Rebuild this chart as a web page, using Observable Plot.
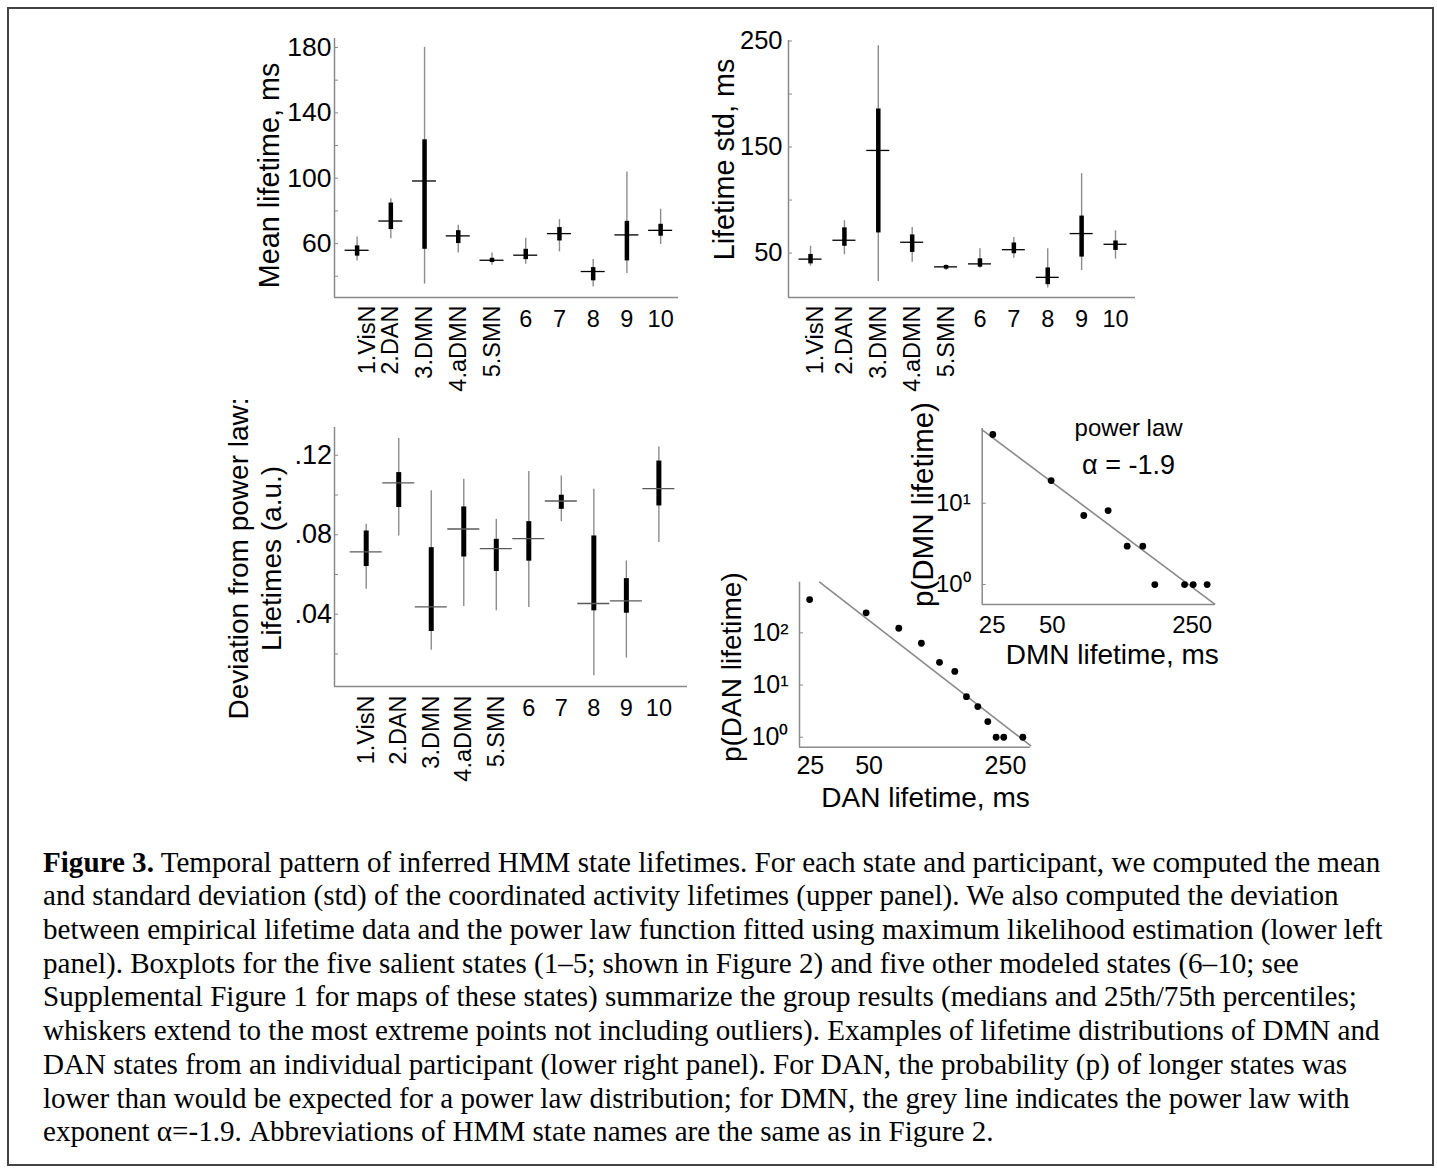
<!DOCTYPE html>
<html><head><meta charset="utf-8">
<script src="https://cdn.jsdelivr.net/npm/d3@7"></script>
<script src="https://cdn.jsdelivr.net/npm/@observablehq/plot@0.6"></script>
<style>
html,body{margin:0;padding:0;background:#fff;}
#page{position:relative;width:1437px;height:1171px;overflow:hidden;background:#fff;}
#border{position:absolute;left:7px;top:7px;width:1427px;height:1159px;border:2px solid #444;box-sizing:border-box;}
.panel{position:absolute;}
.panel svg{overflow:visible;}
#caption{position:absolute;left:0;top:0;}
</style></head><body>
<div id="page">
<div id="border"></div>
<div class="panel" id="pA"></div>
<div class="panel" id="pB"></div>
<div class="panel" id="pC"></div>
<div class="panel" id="pE"></div>
<div class="panel" id="pD"></div>
<svg id="caption" width="1437" height="1171"></svg>
</div>
<script>
// ---------------- data ----------------
const states = ["1.VisN","2.DAN","3.DMN","4.aDMN","5.SMN","6","7","8","9","10"];

// Mean lifetime, ms
const meanMed = [55.9, 73.8, 98.3, 64.7, 49.8, 52.9, 66.1, 42.9, 65.3, 68.1];
const meanQ1  = [52.3, 68.6, 56.5, 60.0, 48.4, 50.2, 61.6, 37.2, 49.4, 64.5];
const meanQ3  = [58.6, 84.8, 123.5, 67.9, 51.0, 56.5, 69.8, 45.3, 73.6, 71.8];
const meanLo  = [49.4, 62.9, 35.2, 54.3, 46.8, 47.4, 54.9, 33.5, 41.7, 59.4];
const meanHi  = [64.0, 87.5, 180.1, 71.2, 54.3, 63.3, 74.7, 50.2, 103.8, 81.0];
const meanTicks = [60, 100, 140, 180];
const meanMinor = [40, 60, 80, 100, 120, 140, 160, 180];

// Lifetime std, ms
const stdMed = [44.3, 62.1, 146.8, 60.2, 37.0, 39.8, 53.2, 27.1, 68.4, 58.3];
const stdQ1  = [39.8, 56.4, 69.0, 50.6, 34.8, 36.7, 49.4, 20.2, 46.2, 52.5];
const stdQ3  = [48.7, 73.8, 185.9, 67.1, 38.3, 44.6, 59.5, 36.0, 84.9, 61.4];
const stdLo  = [37.6, 48.4, 23.3, 41.4, 33.5, 35.7, 45.2, 17.0, 33.5, 44.3];
const stdHi  = [56.4, 80.5, 245.6, 74.1, 38.9, 54.1, 64.6, 54.1, 124.9, 71.0];
const stdTicks = [50, 150, 250];
const stdMinor = [50, 100, 150, 200, 250];

// Deviation from power law (a.u.)
const devMed = [0.0714, 0.1061, 0.0437, 0.0829, 0.0730, 0.0781, 0.0970, 0.0454, 0.0467, 0.1032];
const devQ1  = [0.0640, 0.0937, 0.0313, 0.0688, 0.0615, 0.0667, 0.0928, 0.0417, 0.0405, 0.0945];
const devQ3  = [0.0819, 0.1113, 0.0735, 0.0940, 0.0777, 0.0866, 0.0999, 0.0794, 0.0579, 0.1171];
const devLo  = [0.0526, 0.0794, 0.0219, 0.0439, 0.0417, 0.0434, 0.0866, 0.0090, 0.0179, 0.0761];
const devHi  = [0.0853, 0.1285, 0.1021, 0.1079, 0.0878, 0.1118, 0.1096, 0.1029, 0.0668, 0.1242];
const devTicks = [0.04, 0.08, 0.12];
const devMinor = [0.02, 0.04, 0.06, 0.08, 0.10, 0.12];

// DMN lifetime distribution (one participant)
const dmnLife = [25.2, 49.3, 71.8, 95, 118.3, 141.6, 162.6, 229, 253, 297];
const dmnP    = [70, 19.0, 7.06, 8.13, 2.96, 2.96, 1, 1, 1, 1];
const dmnFitLife = [22.3, 324];
const dmnFitP    = [80, 0.575];
const dmnPTicks = [1, 10];

// DAN lifetime distribution (one participant)
const danLife = [24.8, 48.3, 71.0, 92.7, 114.8, 137.5, 157.8, 180.4, 203, 224, 245, 307];
const danP    = [434, 241.7, 122.5, 63.2, 27.3, 18.2, 6.0, 3.87, 2.0, 1, 1, 1];
const danFitLife = [27.9, 336];
const danFitP    = [933, 0.693];
const danPTicks = [1, 10, 100];

const lifeTicks = [25, 50, 250];

// ---------------- helpers ----------------
const FONT = "'Liberation Sans', Arial, Helvetica, sans-serif";
const AXIS = "#8a8a8a";
const sup = d => "10" + "⁰¹²³"[Math.round(Math.log10(d))];

function place(id, left, top, node) {
  const el = document.getElementById(id);
  el.style.left = left + "px";
  el.style.top = top + "px";
  el.appendChild(node);
}

function boxPanel(c) {
  const rows = states.map((label, i) => ({
    pos: i + 1, label, med: c.med[i], q1: c.q1[i], q3: c.q3[i], lo: c.lo[i], hi: c.hi[i]
  }));
  const x0 = c.xDomain[0], y0 = c.yDomain[0];
  const rot = rows.filter(d => d.label.includes("."));
  return Plot.plot({
    width: c.w, height: c.h,
    marginLeft: c.ml, marginRight: c.mr, marginTop: c.mt, marginBottom: c.mb,
    style: {fontFamily: FONT, fontSize: c.tickFont + "px", background: "transparent", overflow: "visible", color: "#000"},
    x: {domain: c.xDomain, axis: null},
    y: {domain: c.yDomain, ticks: c.yTicks, tickFormat: c.yFormat, tickSize: 0, tickPadding: c.tickPad, label: null},
    marks: [
      Plot.ruleX([x0], {stroke: AXIS, strokeWidth: 1.5}),
      Plot.ruleY([y0], {stroke: AXIS, strokeWidth: 1.5}),
      Plot.ruleY(c.yMinor, {y: d => d, x1: x0, x2: x0, insetRight: -4, stroke: AXIS, strokeWidth: 1}),
      Plot.ruleX(rows, {x: "pos", y1: "lo", y2: "hi", stroke: "#8c8c8c", strokeWidth: 1.4}),
      Plot.ruleX(rows, {x: "pos", y1: "q1", y2: "q3", stroke: "#000", strokeWidth: c.boxW}),
      Plot.ruleY(rows, {y: "med", x1: "pos", x2: "pos", insetLeft: -c.medHalf, insetRight: -c.medHalf,
        stroke: c.medColor, strokeWidth: 1.3}),
      Plot.text(rot.slice(0, 1), {x: "pos", text: "label", frameAnchor: "bottom",
        rotate: -90, textAnchor: "end", lineAnchor: "middle", dx: c.firstDx, dy: c.rotDy, fontSize: 23.5, fill: "#000"}),
      Plot.text(rot.slice(1), {x: "pos", text: "label", frameAnchor: "bottom",
        rotate: -90, textAnchor: "end", lineAnchor: "middle", dy: c.rotDy, fontSize: 23.5, fill: "#000"}),
      Plot.text(rows.filter(d => !d.label.includes(".")), {x: "pos", text: "label", frameAnchor: "bottom",
        lineAnchor: "top", dy: c.numDy, fontSize: 23.5, fill: "#000"}),
      Plot.text([c.ylabel], {frameAnchor: "left", rotate: -90, textAnchor: "middle", lineAnchor: "middle",
        dx: c.ylDx, dy: c.ylDy, fontSize: c.ylSize, lineHeight: 1.18, fill: "#000"})
    ]
  });
}

function scatterPanel(c) {
  const pts = c.life.map((v, i) => ({life: v, p: c.p[i]}));
  const fit = c.fitLife.map((v, i) => ({life: v, p: c.fitP[i]}));
  const x0 = c.xDomain[0], y0 = c.yDomain[0];
  return Plot.plot({
    width: c.w, height: c.h,
    marginLeft: c.ml, marginRight: c.mr, marginTop: c.mt, marginBottom: c.mb,
    style: {fontFamily: FONT, fontSize: c.tickFont + "px", background: "transparent", overflow: "visible", color: "#000"},
    x: {type: "log", domain: c.xDomain, ticks: lifeTicks, tickFormat: d => String(d), tickSize: 0, tickPadding: c.xPad, label: null},
    y: {type: "log", domain: c.yDomain, ticks: c.yTicks, tickFormat: sup, tickSize: 0, tickPadding: c.yPad, label: null},
    marks: [
      Plot.ruleX([x0], {stroke: AXIS, strokeWidth: 1.5}),
      Plot.ruleY([y0], {stroke: AXIS, strokeWidth: 1.5}),
      Plot.ruleY(c.yTicks, {y: d => d, x1: x0, x2: x0, insetRight: -4, stroke: AXIS, strokeWidth: 1}),
      Plot.line(fit, {x: "life", y: "p", stroke: "#8a8a8a", strokeWidth: 1.6}),
      Plot.dot(pts, {x: "life", y: "p", r: 3.4, fill: "#000", stroke: "none"}),
      Plot.text([c.ylabel], {frameAnchor: "left", rotate: -90, textAnchor: "middle", lineAnchor: "middle",
        dx: c.ylDx, dy: c.ylDy, fontSize: c.ylSize, fill: "#000"}),
      Plot.text([c.xlabel], {frameAnchor: "bottom", textAnchor: "middle", lineAnchor: "middle",
        dx: c.xlDx, dy: c.xlDy, fontSize: 28, fill: "#000"}),
      ...(c.notes || []).map(n => Plot.text([n.text], {frameAnchor: "top", lineAnchor: "middle",
        dx: n.dx, dy: n.dy, fontSize: n.size, fill: "#000"}))
    ]
  });
}

// ---------------- panels ----------------
place("pA", 180, 20, boxPanel({
  w: 520, h: 400, ml: 154, mr: 22, mt: 18, mb: 123,
  xDomain: [0.33, 10.53], yDomain: [27, 185.5],
  yTicks: meanTicks, yMinor: meanMinor, yFormat: d => String(d), tickPad: 3, tickFont: 26.5,
  med: meanMed, q1: meanQ1, q3: meanQ3, lo: meanLo, hi: meanHi,
  boxW: 4.5, medHalf: 12, medColor: "#000", rotDy: 8, numDy: 13, firstDx: 10,
  ylabel: "Mean lifetime, ms", ylDx: -66, ylDy: 7.5, ylSize: 28.8
}));

place("pB", 640, 20, boxPanel({
  w: 520, h: 400, ml: 148, mr: 25, mt: 20, mb: 123,
  xDomain: [0.35, 10.59], yDomain: [8.1, 250.5],
  yTicks: stdTicks, yMinor: stdMinor, yFormat: d => String(d), tickPad: 6, tickFont: 25.5,
  med: stdMed, q1: stdQ1, q3: stdQ3, lo: stdLo, hi: stdHi,
  boxW: 4.5, medHalf: 11.5, medColor: "#000", rotDy: 8, numDy: 13, firstDx: 5,
  ylabel: "Lifetime std, ms", ylDx: -65, ylDy: -9.5, ylSize: 28.8
}));

place("pC", 180, 400, boxPanel({
  w: 520, h: 400, ml: 154, mr: 13, mt: 27, mb: 114,
  xDomain: [0.025, 10.88], yDomain: [0.0036, 0.134],
  yTicks: devTicks, yMinor: devMinor, yFormat: d => d3.format(".2f")(d).slice(1), tickPad: 2.5, tickFont: 27,
  med: devMed, q1: devQ1, q3: devQ3, lo: devLo, hi: devHi,
  boxW: 5, medHalf: 16, medColor: "#5a5a5a", rotDy: 9, numDy: 13, firstDx: 0,
  ylabel: "Deviation from power law:\nLifetimes (a.u.)", ylDx: -80.5, ylDy: 1.5, ylSize: 28
}));

place("pE", 690, 560, scatterPanel({
  w: 360, h: 260, ml: 109, mr: 20, mt: 21.7, mb: 73.3, tickFont: 25,
  xDomain: [22, 336], yDomain: [0.645, 933], yTicks: danPTicks, xPad: 9, yPad: 11,
  life: danLife, p: danP, fitLife: danFitLife, fitP: danFitP,
  ylabel: "p(DAN lifetime)", ylDx: -67, ylDy: 2.5, ylSize: 28,
  xlabel: "DAN lifetime, ms", xlDx: 10.5, xlDy: 51
}));

place("pD", 880, 380, scatterPanel({
  w: 360, h: 300, ml: 101.7, mr: 25, mt: 48, mb: 76, tickFont: 24,
  xDomain: [22.3, 327], yDomain: [0.568, 83], yTicks: dmnPTicks, xPad: 11, yPad: 11.5,
  life: dmnLife, p: dmnP, fitLife: dmnFitLife, fitP: dmnFitP,
  ylabel: "p(DMN lifetime)", ylDx: -59, ylDy: -12, ylSize: 29.5,
  xlabel: "DMN lifetime, ms", xlDx: 13.4, xlDy: 51,
  notes: [{text: "power law", dx: 29.7, dy: 0, size: 24}, {text: "α = -1.9", dx: 29.7, dy: 37, size: 27}]
}));

// ---------------- caption ----------------
const captionLines = [
  ["Figure 3.", " Temporal pattern of inferred HMM state lifetimes. For each state and participant, we computed the mean"],
  ["", "and standard deviation (std) of the coordinated activity lifetimes (upper panel). We also computed the deviation"],
  ["", "between empirical lifetime data and the power law function fitted using maximum likelihood estimation (lower left"],
  ["", "panel). Boxplots for the five salient states (1–5; shown in Figure 2) and five other modeled states (6–10; see"],
  ["", "Supplemental Figure 1 for maps of these states) summarize the group results (medians and 25th/75th percentiles;"],
  ["", "whiskers extend to the most extreme points not including outliers). Examples of lifetime distributions of DMN and"],
  ["", "DAN states from an individual participant (lower right panel). For DAN, the probability (p) of longer states was"],
  ["", "lower than would be expected for a power law distribution; for DMN, the grey line indicates the power law with"],
  ["", "exponent α=-1.9. Abbreviations of HMM state names are the same as in Figure 2."]
];
const cap = d3.select("#caption");
const g = cap.append("g").attr("font-family", "'Liberation Serif', 'Times New Roman', serif").attr("font-size", 29).attr("fill", "#000");
captionLines.forEach(([b, t], i) => {
  const tx = g.append("text").attr("x", 0).attr("y", 871.7 + i * 33.7).attr("xml:space", "preserve").style("white-space", "pre");
  if (b) tx.append("tspan").attr("font-weight", "bold").text(b);
  tx.append("tspan").text(t);
});
const firstW = g.select("text").node().getComputedTextLength();
const sx = 1338 / firstW;
g.attr("transform", `translate(43,0) scale(${sx},1)`);
</script>
</body></html>
